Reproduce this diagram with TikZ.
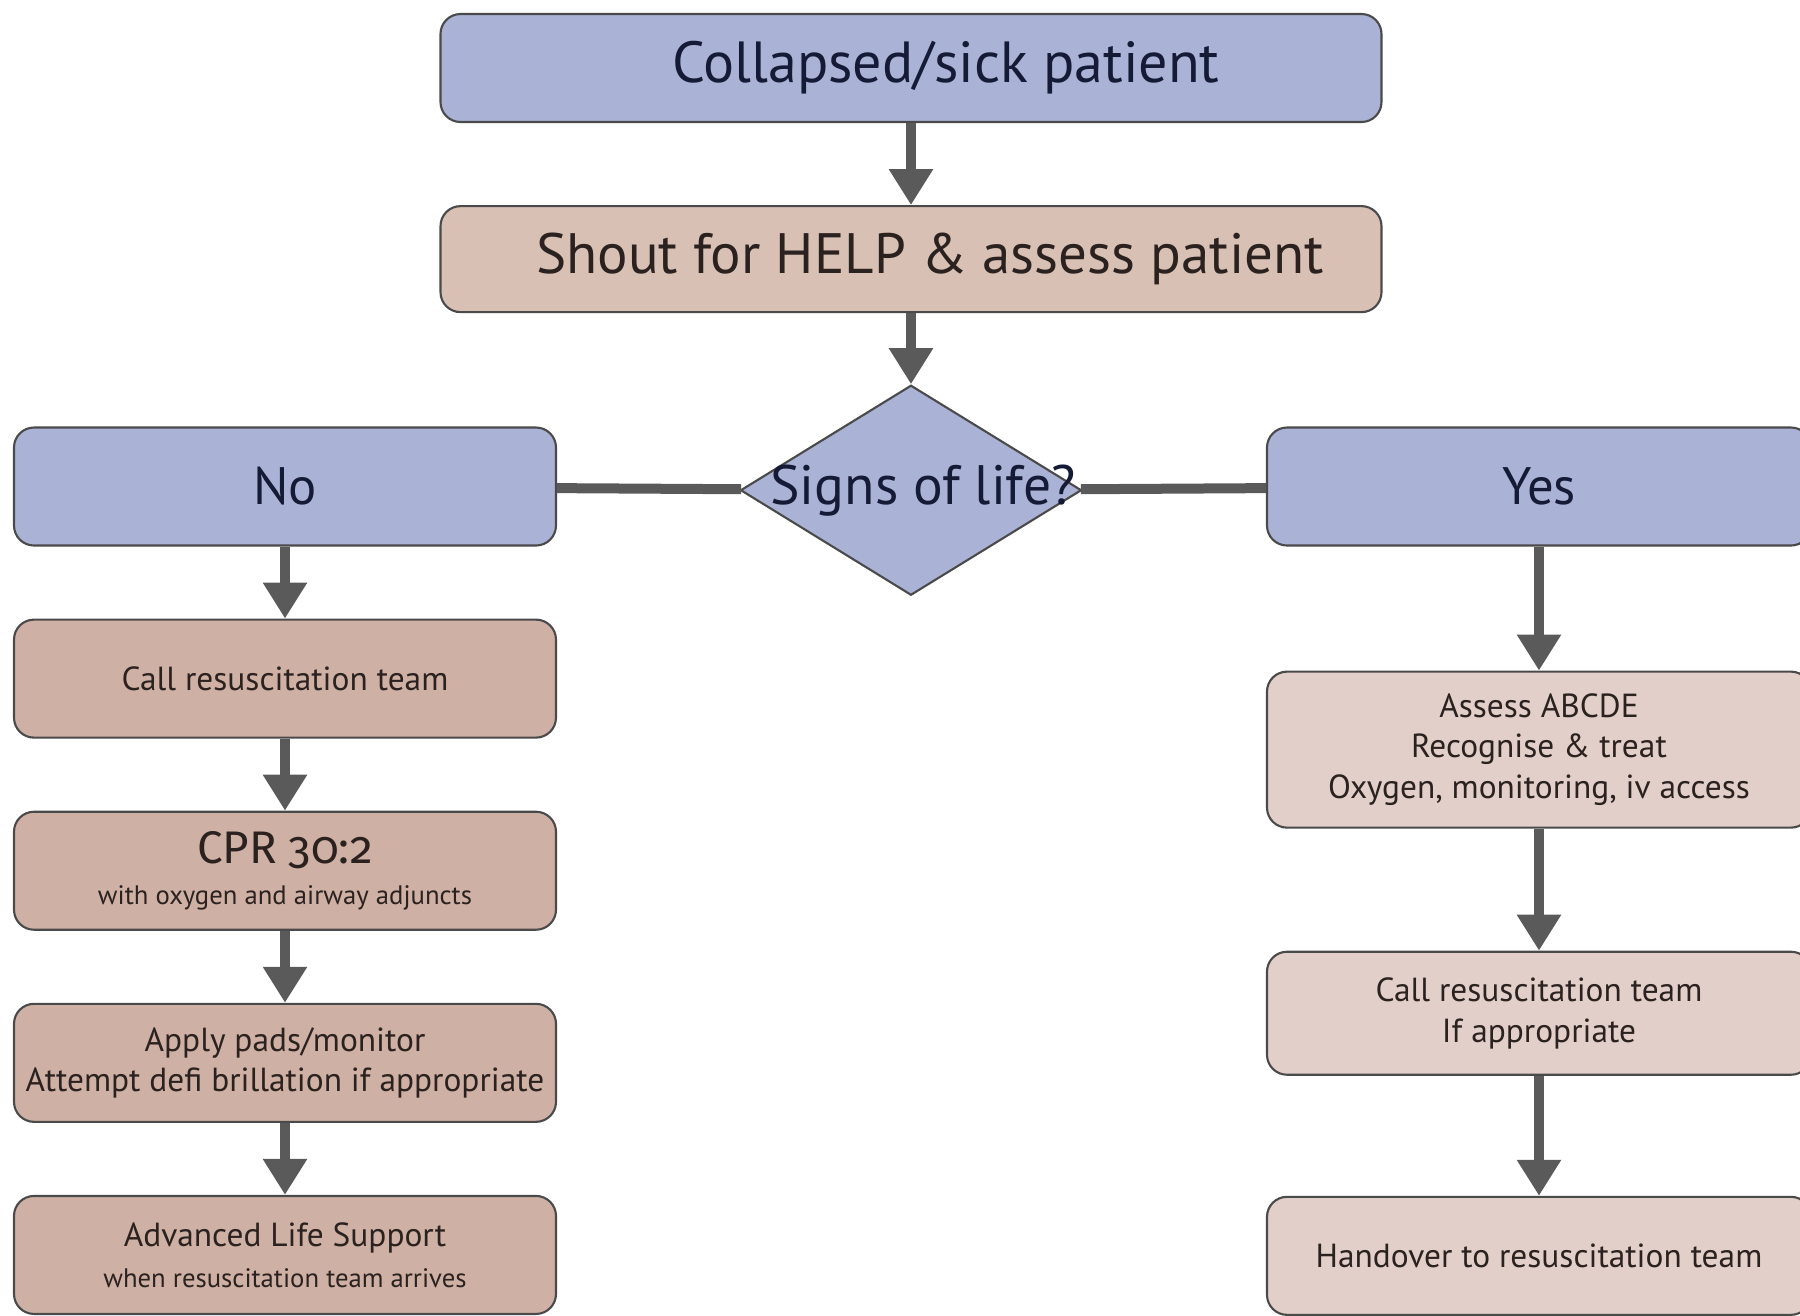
\documentclass[tikz,border=0pt]{standalone}
\usepackage{fontspec}
\setmainfont{PT Sans}
\newfontfamily\cifrasviejas[Numbers=OldStyle]{Fira Sans}
\usetikzlibrary{shapes.geometric, arrows.meta, positioning, calc}
\definecolor{azul}{HTML}{AAB3D6}
\definecolor{arena}{HTML}{D8C0B4}
\definecolor{salmon}{HTML}{CFB0A4}
\definecolor{rosado}{HTML}{E2CFC9}
\definecolor{borde}{HTML}{4A4A4A}
\definecolor{grisflecha}{HTML}{5A5A5A}
\definecolor{tinta}{HTML}{151B36}
\definecolor{tintacafe}{HTML}{2B2220}
\newcommand{\letrachica}{\fontsize{7.6}{9}\selectfont}
\newcommand{\letracpr}{\cifrasviejas\fontsize{13}{15}\selectfont}
\tikzset{
  cajaazul/.style={rectangle, rounded corners=0.2cm, draw=borde, line width=0.6pt, fill=azul,
                   text=tinta, minimum width=5.42cm, minimum height=1.18cm, align=center,
                   font=\fontsize{15}{18}\selectfont},
  cajatop/.style={cajaazul, minimum width=9.41cm, minimum height=1.08cm, font=\fontsize{16.5}{20}\selectfont},
  cajaarena/.style={cajatop, fill=arena, text=tintacafe, minimum height=1.06cm, font=\fontsize{16.2}{20}\selectfont},
  cajano/.style={rectangle, rounded corners=0.2cm, draw=borde, line width=0.6pt, fill=salmon,
                 text=tintacafe, minimum width=5.42cm, minimum height=1.18cm, align=center,
                 font=\fontsize{9.5}{11.6}\selectfont},
  cajasi/.style={cajano, fill=rosado, minimum width=5.44cm},
  decision/.style={diamond, draw=borde, line width=0.6pt, fill=azul, inner sep=0pt,
                   minimum width=3.41cm, minimum height=2.10cm},
  flecha/.style={line width=0.1cm, draw=grisflecha, -{Triangle[width=0.42cm,length=0.36cm]}},
  linea/.style={line width=0.1cm, draw=grisflecha}
}
\begin{document}
\begin{tikzpicture}[node distance=0.72cm]
  \useasboundingbox (0,0) rectangle (18,-13.15);
  \clip (0,0) rectangle (18,-13.15);
  % tronco central
  \node (colapso) [cajatop] at (9.11,-0.68) {\hspace*{0.7cm}Collapsed/sick patient};
  \node (ayuda) [cajaarena, below=0.82cm of colapso] {\hspace*{0.38cm}Shout for HELP \& assess patient};
  \node (signos) [decision, below=0.71cm of ayuda,
                  label={[text=tinta, font=\fontsize{15.8}{18}\selectfont, xshift=0.12cm]center:Signs of life?}] {};
  \node (no) [cajaazul] at (2.85,-4.865) {No};
  \node (si) [cajaazul, minimum width=5.44cm] at (15.39,-4.865) {Yes};
  % rama sin signos de vida
  \node (llamada) [cajano, below=of no] {Call resuscitation team};
  \node (rcp) [cajano, below=of llamada] {{\letracpr CPR 30:2}\\ {\letrachica with oxygen and airway adjuncts}};
  \node (parches) [cajano, below=of rcp] {Apply pads/monitor\\ Attempt defi brillation if appropriate};
  \node (sva) [cajano, below=of parches] {Advanced Life Support\\ {\letrachica when resuscitation team arrives}};
  % rama con signos de vida
  \node (evaluar) [cajasi, minimum height=1.56cm, below=1.24cm of si] {Assess ABCDE\\ Recognise \& treat\\ Oxygen, monitoring, iv access};
  \node (llamadasi) [cajasi, minimum height=1.23cm, below=1.22cm of evaluar] {Call resuscitation team\\ If appropriate};
  \node (traspaso) [cajasi, below=1.2cm of llamadasi] {Handover to resuscitation team};
  % conectores
  \draw [flecha] (colapso) -- (ayuda);
  \draw [flecha] (ayuda) -- (signos);
  \draw [linea] (no) -- (signos);
  \draw [linea] (signos) -- (si);
  \draw [flecha] (no) -- (llamada);
  \draw [flecha] (llamada) -- (rcp);
  \draw [flecha] (rcp) -- (parches);
  \draw [flecha] (parches) -- (sva);
  \draw [flecha] (si) -- (evaluar);
  \draw [flecha] (evaluar) -- (llamadasi);
  \draw [flecha] (llamadasi) -- (traspaso);
\end{tikzpicture}
\end{document}
